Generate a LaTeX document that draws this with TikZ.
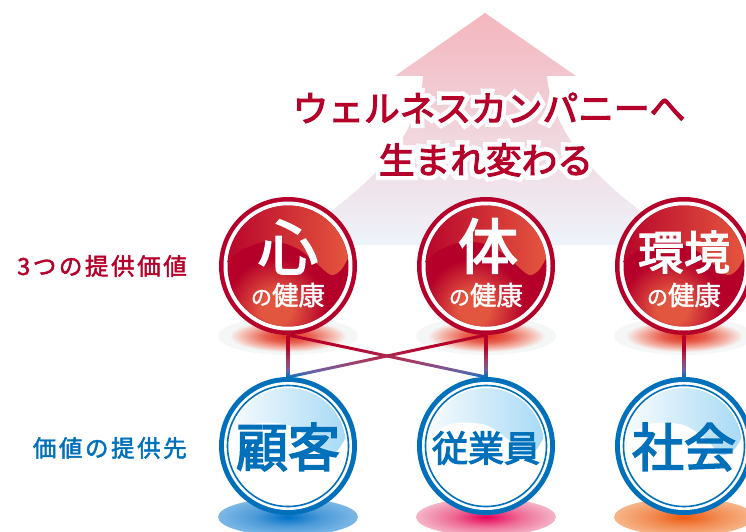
\documentclass[tikz,border=0pt]{standalone}
\usepackage{fontspec}
\usetikzlibrary{calc}
\newfontfamily\jp[FakeBold=1.5]{Noto Sans CJK JP}
\newfontfamily\jpb[FakeBold=3]{Noto Sans CJK JP}
\newfontfamily\jpl[FakeBold=2,LetterSpace=11]{Noto Sans CJK JP}
\newfontfamily\jphalo[FakeBold=28]{Noto Sans CJK JP}
\definecolor{crim}{HTML}{B5002A}
\definecolor{blu}{HTML}{0070BB}
\definecolor{glowc}{HTML}{E2553F}
\definecolor{glossr}{HTML}{E85C3F}
\definecolor{glossb}{HTML}{9FD6F5}
\definecolor{arrowtop}{HTML}{F4B6BE}
\definecolor{arrowbot}{HTML}{EEF3FA}
\definecolor{linkmid}{HTML}{6C62A6}
\definecolor{linkmidb}{HTML}{A8385F}
\pgfdeclareverticalshading{linkshade}{100bp}{color(0bp)=(blu); color(26bp)=(blu); color(33bp)=(linkmid); color(46bp)=(linkmidb); color(60bp)=(crim); color(100bp)=(crim)}
\definecolor{shb0}{HTML}{0070C8}\definecolor{shb1}{HTML}{4C9AD8}\definecolor{shb2}{HTML}{7DB8E6}
\definecolor{shp0}{HTML}{E6005A}\definecolor{shp1}{HTML}{EE6A95}\definecolor{shp2}{HTML}{F4B5C8}
\definecolor{sho0}{HTML}{EE5A10}\definecolor{sho1}{HTML}{F28B52}\definecolor{sho2}{HTML}{F6B68A}
\definecolor{shr0}{HTML}{E2301F}\definecolor{shr1}{HTML}{E8604F}\definecolor{shr2}{HTML}{F4B9AE}\definecolor{shr3}{HTML}{F5F7F7}
\pgfdeclareradialshading{redshadowb}{\pgfpoint{0bp}{0bp}}{color(0bp)=(shr0); color(8bp)=(shr1); color(16bp)=(shr2); color(21bp)=(shr3); color(50bp)=(shr3)}
\pgfdeclareradialshading{blueshadow}{\pgfpoint{0bp}{0bp}}{color(0bp)=(shb0); color(12bp)=(shb1); color(25bp)=(shb2); color(50bp)=(shb2)}
\pgfdeclareradialshading{pinkshadow}{\pgfpoint{0bp}{0bp}}{color(0bp)=(shp0); color(12bp)=(shp1); color(25bp)=(shp2); color(50bp)=(shp2)}
\pgfdeclareradialshading{orangeshadow}{\pgfpoint{0bp}{0bp}}{color(0bp)=(sho0); color(12bp)=(sho1); color(25bp)=(sho2); color(50bp)=(sho2)}
\pgfdeclareradialshading{redglow}{\pgfpoint{0bp}{0bp}}{color(0bp)=(glowc); color(8bp)=(glowc); color(25bp)=(crim); color(50bp)=(crim)}
\tikzset{
  x=1pt,y=-1pt,
  ball/.style={circle,minimum size=138pt,inner sep=0pt,outer sep=0pt},
  bigtxt/.style={text=#1,inner sep=0pt,font=\jpb\fontsize{60}{60}\selectfont},
  smalltxt/.style={text=white,inner sep=0pt,font=\jp\fontsize{26.5}{26.5}\selectfont},
  sidelabel/.style={text=#1,inner sep=0pt,font=\jpl\fontsize{23.5}{24}\selectfont},
  titletxt/.style={text=crim,inner sep=0pt,font=\jpb\fontsize{35.7}{40}\selectfont},
  halotxt/.style={text=white,inner sep=0pt,font=\jphalo\fontsize{35.7}{40}\selectfont},
}
\newcommand{\RedBall}[2]{%
  \begin{scope}[shift={(#2)}]
    \shade[shading=redshadowb] (0,70) ellipse [x radius=70,y radius=19];
    \node[ball,fill=crim] (#1) at (0,0) {};
    \fill[white] (0,0) circle [radius=64.5];
    \begin{scope}
      \clip (0,0) circle [radius=60.5];
      \fill[crim] (-70,-70) rectangle (70,70);
      \shade[shading=redglow] (-12,42) circle [radius=50];
      \shade[left color=crim,right color=glossr]
        plot[smooth] coordinates {(-66,2) (-48,-15) (-25,-24) (-5,-23) (12,-16) (28,-3) (43,9) (53,4) (60,-8)}
        -- (70,-70) -- (-70,-70) -- cycle;
    \end{scope}
  \end{scope}}
\newcommand{\BlueBall}[3]{%
  \begin{scope}[shift={(#3)}]
    \shade[shading=#2] (0,71) ellipse [x radius=70,y radius=19];
    \node[ball,fill=blu] (#1) at (0,0) {};
    \fill[white] (0,0) circle [radius=64];
    \draw[blu,line width=1.6pt] (0,0) circle [radius=60.5];
    \begin{scope}
      \clip (0,0) circle [radius=58];
      \shade[left color=white,right color=glossb]
        plot[smooth] coordinates {(-62,2) (-53,-13) (-30,-23) (0,-21) (23,-6) (37,9) (50,4) (60,-13)}
        -- (70,-70) -- (-70,-70) -- cycle;
    \end{scope}
  \end{scope}}
\newcommand{\LinkUp}[2]{%
  \shade[shading=linkshade]
    ($(#1)!1.5pt!90:(#2)$) -- ($(#1)!1.5pt!-90:(#2)$) --
    ($(#2)!1.5pt!90:(#1)$) -- ($(#2)!1.5pt!-90:(#1)$) -- cycle;}
\begin{document}
\begin{tikzpicture}
\useasboundingbox (0,0) rectangle (746,532);
\clip (0,0) rectangle (746,532);
% arrow
\shade[top color=arrowtop,bottom color=arrowbot]
  (485,13) -- (576,76) -- (547,76) .. controls (552,135) and (600,190) .. (692,245)
  -- (280,245) .. controls (372,190) and (420,135) .. (423,76) -- (395,76) -- cycle;
% balls
\RedBall{r1}{288,266}
\RedBall{r2}{486,266}
\RedBall{r3}{684,266}
\BlueBall{b1}{blueshadow}{288,446}
\BlueBall{b2}{pinkshadow}{486,446}
\BlueBall{b3}{orangeshadow}{684,446}
% connectors
\LinkUp{r1.south}{b1.north}
\LinkUp{r1.south}{b2.north}
\LinkUp{r2.south}{b1.north}
\LinkUp{r2.south}{b2.north}
\LinkUp{r3.south}{b3.north}
% title
\node[halotxt] (th1) at (489,108) {ウェルネスカンパニーへ};
\node[halotxt] (th2) at (486,160) {生まれ変わる};
\node[titletxt] (t1) at (489,108) {ウェルネスカンパニーへ};
\node[titletxt] (t2) at (486,160) {生まれ変わる};
% ball text
\node[bigtxt=white] (k1) at (288,247) {心};
\node[bigtxt=white] (k2) at (488,246) {体};
\node[bigtxt=white,font=\jpb\fontsize{46}{46}\selectfont] (k3) at (684,252) {環境};
\node[smalltxt] (s1) at (288,295) {{\fontsize{21}{21}\selectfont の}健康};
\node[smalltxt] (s2) at (486,295) {{\fontsize{21}{21}\selectfont の}健康};
\node[smalltxt] (s3) at (684,295) {{\fontsize{21}{21}\selectfont の}健康};
\node[bigtxt=blu,font=\jpb\fontsize{52}{52}\selectfont] (n1) at (288,447) {顧客};
\node[bigtxt=blu,font=\jpb\fontsize{36}{36}\selectfont] (n2) at (486,448) {従業員};
\node[bigtxt=blu,font=\jpb\fontsize{52}{52}\selectfont] (n3) at (684,447) {社会};
% side labels
\node[sidelabel=crim,anchor=east] (l1) at (187,266) {3つの提供価値};
\node[sidelabel=blu,anchor=east] (l2) at (187,448) {価値の提供先};
\end{tikzpicture}
\end{document}
